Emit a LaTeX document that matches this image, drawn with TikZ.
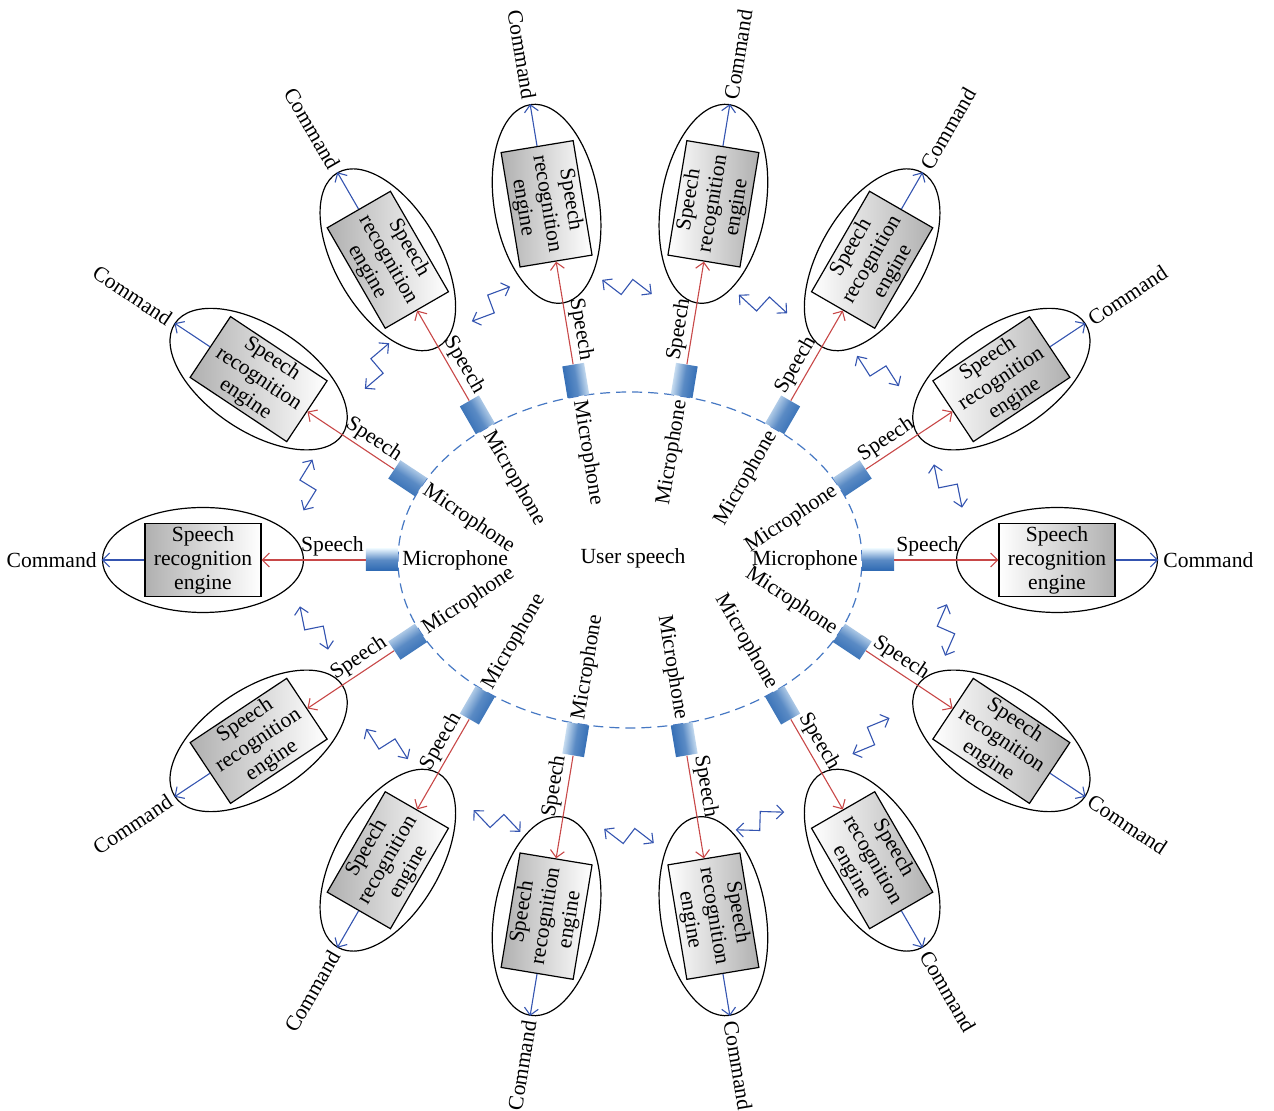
\documentclass[tikz,border=0pt]{standalone}
\usepackage{fontspec}
\setmainfont{Liberation Serif}
\usetikzlibrary{arrows.meta}
\usetikzlibrary{shapes.geometric}
\definecolor{micdark}{RGB}{44,104,178}
\definecolor{miclight}{RGB}{228,242,252}
\definecolor{speechred}{RGB}{200,72,72}
\definecolor{cmdblue}{RGB}{52,84,176}
\definecolor{ringblue}{RGB}{70,120,195}
\definecolor{boxdark}{RGB}{176,176,176}
\tikzset{ring/.style={ringblue, dash pattern=on 5pt off 3pt, line width=0.6pt}}
\tikzset{mic/.style={rectangle, minimum width=16pt, minimum height=11pt, inner sep=0pt,
  top color=miclight, bottom color=micdark, middle color=micdark!75!miclight}}
\tikzset{engine/.style={rectangle, draw, line width=0.6pt, minimum width=58pt, minimum height=36.5pt,
  inner sep=0pt, align=center, top color=white, bottom color=boxdark}}
\tikzset{shell/.style={ellipse, draw, line width=0.6pt, minimum width=100.5pt, minimum height=52.5pt, inner sep=0pt}}
\tikzset{speech/.style={->, speechred, line width=0.55pt}}
\tikzset{command/.style={->, cmdblue, line width=0.55pt}}
\tikzset{link/.style={<->, cmdblue, line width=0.55pt}}

\begin{document}
\begin{tikzpicture}[x=0.5pt, y=0.5pt, >={Straight Barb[length=3.5pt,width=7pt]},
  font=\fontsize{10.8}{12}\selectfont]
\useasboundingbox (-630,-551) rectangle (644,560);

% ring of microphones round the user
\draw[ring] (0,0) ellipse [x radius=232, y radius=168];
\node (user) at (3,2) {User speech};

\foreach \k in {0,...,13} {
  \pgfmathsetmacro{\t}{\k*360/14}
  \pgfmathsetmacro{\px}{232*cos(\t)}
  \pgfmathsetmacro{\py}{168*sin(\t)}
  \pgfmathsetmacro{\a}{atan2(232*sin(\t),168*cos(\t))}
  \ifdim \px pt>0pt
    \def\s{1}\def\din{west}\def\dout{east}\def\sa{90}
    \pgfmathsetmacro{\r}{\a}
  \else
    \def\s{-1}\def\din{east}\def\dout{west}\def\sa{-90}
    \pgfmathsetmacro{\r}{\a-180}
  \fi
  \pgfmathsetmacro{\ml}{-4*\s}
  \begin{scope}[shift={(\px,\py)}, rotate=\r, transform shape]
    \node[shell] (shell\k) at (\s*195,0) {};
    \node[engine, shading angle=\sa] (eng\k) at (\s*195,0) {Speech\\recognition\\engine};
    \node[mic, shading angle=\r] (mic\k) at (\s*16,0) {};
    \node[anchor=\dout, inner sep=0pt] (micl\k) at (\ml,0) {Microphone};
    \node[anchor=south \din, inner sep=0pt] (sp\k) at (\s*34,3) {Speech};
    \node[anchor=\din, inner sep=0pt] (cmd\k) at (\s*301,0) {Command};
    \draw[speech] (mic\k) -- (eng\k);
    \draw[command] (eng\k) -- (shell\k.\dout);
  \end{scope}
}

% wireless links between neighbouring engines
\foreach \zx/\zy/\zc [count=\i] in {318/74/-57, 248/189/-36, 133/256/-21, -3/273/-16,
    -139/256/42, -253/194/62, -322/75/80, -316/-68/-57, -243/-184/-36, -133/-261/-25,
    -1/-276/-16, 130/-261/20, 241/-176/44, 316/-70/88} {
  \coordinate (zz\i) at (\zx,\zy);
  \begin{scope}[shift={(zz\i)}, rotate=\zc-21.6]
    \draw[link] (-24,-9.5) -- (0,-9.5) -- (0,9.5) -- (24,9.5);
  \end{scope}
}
\end{tikzpicture}
\end{document}
